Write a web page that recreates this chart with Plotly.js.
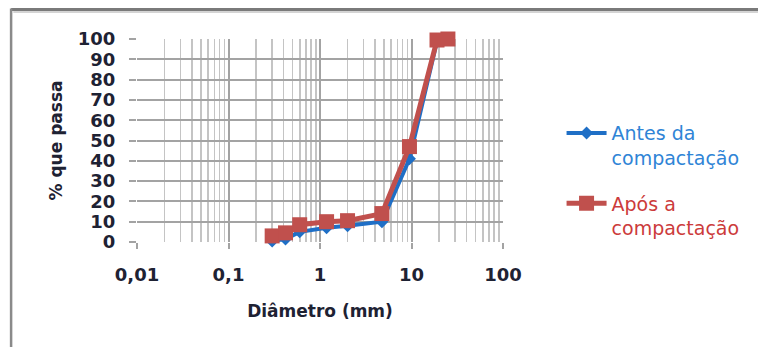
<!DOCTYPE html>
<html>
<head>
<meta charset="utf-8">
<script src="https://cdn.plot.ly/plotly-3.0.1.min.js"></script>
<style>
html,body{margin:0;padding:0;background:#fff;}
#chart{width:758px;height:347px;}
</style>
</head>
<body>
<div id="chart"></div>
<script>
// Data
var diametro = [0.3, 0.42, 0.6, 1.18, 2.0, 4.75, 9.5, 19, 25];
var antes = [0.5, 1.5, 5, 7, 8, 10, 41, 99, 100];
var apos = [3, 4.5, 8.5, 10, 10.5, 14, 47, 99.5, 100];
var seriesNames = ['Antes da<br>compactação', 'Após a<br>compactação'];
var xTickVals = [0.01, 0.1, 1, 10, 100];
var xTickText = ['0,01', '0,1', '1', '10', '100'];
var yTickVals = [0, 10, 20, 30, 40, 50, 60, 70, 80, 90, 100];

var blue = '#1F6FC6';
var red = '#C0504D';

var traces = [
  {
    x: diametro, y: antes, type: 'scatter', mode: 'lines+markers',
    name: '<span style="color:#2F84D6">' + seriesNames[0] + '</span>',
    legendgroup: 'antes',
    line: {color: blue, width: 4},
    marker: {symbol: 'diamond', size: 10, color: blue},
    cliponaxis: false
  },
  {
    x: diametro, y: apos, type: 'scatter', mode: 'lines+markers',
    name: '<span style="color:#CC3B3B">' + seriesNames[1] + '</span>',
    legendgroup: 'apos',
    line: {color: red, width: 5},
    marker: {symbol: 'square', size: 15, color: red},
    cliponaxis: false
  }
];

var fam = 'DejaVu Sans, sans-serif';
var tickFont = {family: fam, size: 18, color: '#1e2233', weight: 'bold'};
var titleFont = {family: fam, size: 17, color: '#1e2233', weight: 'bold'};

var layout = {
  width: 758, height: 347,
  margin: {l: 137, r: 255, t: 39, b: 105},
  paper_bgcolor: '#ffffff', plot_bgcolor: '#ffffff',
  showlegend: true,
  legend: {
    x: 1.16, y: 0.63, xanchor: 'left', yanchor: 'top',
    font: {family: fam, size: 19},
    tracegroupgap: 18, itemwidth: 40, valign: 'top',
    bgcolor: 'rgba(0,0,0,0)'
  },
  xaxis: {
    type: 'log', range: [-2, 2],
    tickvals: xTickVals, ticktext: xTickText,
    showgrid: true, gridcolor: '#a3a3a3', gridwidth: 2,
    ticks: 'outside', ticklen: 6, tickcolor: '#a3a3a3', tickwidth: 2,
    ticklabelstandoff: 10,
    minor: {showgrid: true, dtick: 'D1', gridcolor: '#c4c4c4', gridwidth: 1.6},
    showline: false, zeroline: false,
    tickfont: tickFont,
    title: {text: 'Diâmetro (mm)', font: titleFont, standoff: 21}
  },
  yaxis: {
    range: [0, 100], tickvals: yTickVals,
    showgrid: true, gridcolor: '#a3a3a3', gridwidth: 2,
    ticks: 'outside', ticklen: 7, tickcolor: '#a3a3a3', tickwidth: 2,
    ticklabelstandoff: 10,
    showline: false, zeroline: false,
    tickfont: tickFont,
    title: {text: '% que passa', font: titleFont, standoff: 10}
  },
  shapes: [
    {type: 'line', xref: 'paper', yref: 'paper', x0: -0.344, x1: 1.70, y0: 1.145, y1: 1.145, line: {color: '#7a7a7a', width: 3}},
    {type: 'line', xref: 'paper', yref: 'paper', x0: -0.338, x1: 1.70, y0: 1.133, y1: 1.133, line: {color: '#d4d4d4', width: 2}},
    {type: 'line', xref: 'paper', yref: 'paper', x0: -0.344, x1: -0.344, y0: 1.15, y1: -0.52, line: {color: '#8a8a8a', width: 2.5}}
  ]
};

Plotly.newPlot('chart', traces, layout, {displayModeBar: false, staticPlot: true});
</script>
</body>
</html>
